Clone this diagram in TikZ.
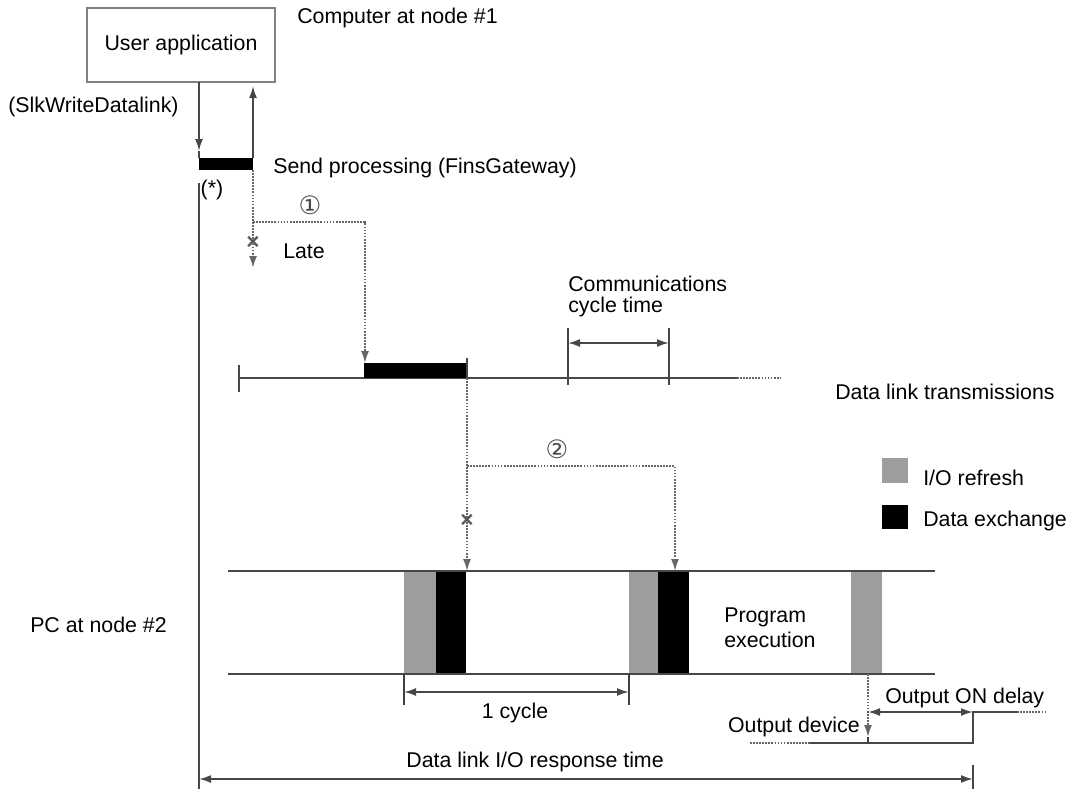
\documentclass[tikz,border=0pt]{standalone}
\usepackage{fontspec}
\setmainfont{Liberation Sans}
\newfontfamily\symfont{DejaVu Sans}
\usetikzlibrary{arrows.meta}
\begin{document}
\begin{tikzpicture}[x=0.75pt,y=-0.75pt,
  txt/.style={font=\fontsize{16}{19}\selectfont, inner sep=0pt},
  ln/.style={draw=black!72, line width=1.4pt},
  thin/.style={draw=black!75, line width=1pt},
  dot/.style={draw=black!60, line width=1.3pt, densely dotted},
  arr/.style={-{Latex[length=9pt,width=6pt]}},
  darr/.style={{Latex[length=9pt,width=6pt]}-{Latex[length=9pt,width=6pt]}},
  appbox/.style={draw=black!50, line width=1.7pt, fill=white, minimum width=141pt, minimum height=55.5pt, inner sep=0pt, font=\fontsize{16}{19}\selectfont},
  blk/.style={fill=black, draw=none, inner sep=0pt},
  gry/.style={fill=black!38, draw=none, inner sep=0pt},
  circ/.style={font=\symfont\fontsize{19}{22}\selectfont, text=black!70, inner sep=0pt},
  xmark/.style={font=\bfseries\fontsize{17}{19}\selectfont, text=black!65, inner sep=0pt}
]
\useasboundingbox (0,0) rectangle (1070,789);

% user application
\node[appbox] (app) at (181,45) {User application};
\node[txt, anchor=west] (comp) at (297,18) {Computer at node \#1};
\node[txt, anchor=west] (slk) at (8,107) {(SlkWriteDatalink)};

% send processing bar
\node[blk, minimum width=40.5pt, minimum height=9pt] (sbar) at (226,164) {};
\node[txt, anchor=west] (send) at (273,168) {Send processing (FinsGateway)};
\node[txt] (star) at (212,190) {(*)};

\coordinate (d1) at (199,82);
\coordinate (d1b) at (199,151);
\coordinate (d2) at (199,158);
\coordinate (u1) at (253,158);
\coordinate (u2) at (253,86);
\draw[ln,arr] (d1) -- (d1b);
\draw[ln] (d1b) -- (d2);
\draw[ln,arr] (u1) -- (u2);

% left long line
\coordinate (L1) at (199,183);
\coordinate (L2) at (199,789);
\draw[ln] (L1) -- (L2);

% path 1 (late)
\coordinate (p0) at (253,170);
\coordinate (p1) at (253,222);
\coordinate (p2) at (365,222);
\coordinate (p3) at (365,363);
\coordinate (pl) at (253,268);
\draw[dot,arr] (p0) -- (pl);
\draw[dot,arr] (p1) -- (p2) -- (p3);
\node[circ] (c1) at (310,205) {①};
\node[xmark] (x1) at (253,243) {×};
\node[txt, anchor=west] (late) at (283,251) {Late};

% data link line
\coordinate (dl0) at (239,378);
\coordinate (dl1) at (737,378);
\coordinate (dl2) at (780,378);
\draw[ln] (dl0) -- (dl1);
\draw[dot] (dl1) -- (dl2);
\draw[ln] (239,365) -- (239,392);
\node[blk, minimum width=77.25pt, minimum height=11.25pt] (dbar) at (415.5,370.5) {};
\coordinate (t1) at (467,358);
\coordinate (t2) at (467,378);
\draw[ln] (t1) -- (t2);
\coordinate (cA1) at (568,328);
\coordinate (cA2) at (568,385);
\coordinate (cB1) at (669,328);
\coordinate (cB2) at (669,385);
\draw[ln] (cA1) -- (cA2);
\draw[ln] (cB1) -- (cB2);
\coordinate (ca) at (568,343);
\coordinate (cb) at (669,343);
\draw[ln,darr] (ca) -- (cb);
\node[txt, font=\fontsize{16}{15.75}\selectfont, anchor=west, align=left] (comm) at (568,296.5) {Communications\\cycle time};
\node[txt, anchor=west] (dlt) at (835,392) {Data link transmissions};

% path 2
\coordinate (q1) at (467,466);
\coordinate (q2) at (675,466);
\coordinate (q3) at (675,571);
\coordinate (q4) at (467,571);
\draw[dot,arr] (t2) -- (q4);
\draw[dot,arr] (q1) -- (q2) -- (q3);
\node[circ] (c2) at (557,449) {②};
\node[xmark] (x2) at (467,521) {×};

% legend
\node[gry, minimum width=19.5pt, minimum height=18.75pt] (lg1) at (895,470.5) {};
\node[blk, minimum width=19.5pt, minimum height=18pt] (lg2) at (895,517) {};
\node[txt, anchor=west] (lt1) at (923,478) {I/O refresh};
\node[txt, anchor=west] (lt2) at (923,521) {Data exchange};

% PC timeline
\node[gry, minimum width=24pt, minimum height=77.25pt] (g1) at (420,622.5) {};
\node[blk, minimum width=22.5pt, minimum height=77.25pt] (b1) at (451,622.5) {};
\node[gry, minimum width=21.75pt, minimum height=77.25pt] (g2) at (643.5,622.5) {};
\node[blk, minimum width=23.25pt, minimum height=77.25pt] (b2) at (673.5,622.5) {};
\node[gry, minimum width=23.25pt, minimum height=77.25pt] (g3) at (866.5,622.5) {};
\coordinate (pcT0) at (228,571);
\coordinate (pcT1) at (935,571);
\coordinate (pcB0) at (228,674);
\coordinate (pcB1) at (935,674);
\draw[ln] (pcT0) -- (pcT1);
\draw[ln] (pcB0) -- (pcB1);
\node[txt, font=\fontsize{16}{18.75}\selectfont, anchor=west, align=left] (prog) at (724,627.5) {Program\\execution};
\node[txt, anchor=west] (pc) at (30,625) {PC at node \#2};

% 1 cycle
\coordinate (k1a) at (404,674);
\coordinate (k1b) at (404,705);
\coordinate (k2a) at (629,674);
\coordinate (k2b) at (629,705);
\draw[thin] (k1a) -- (k1b);
\draw[thin] (k2a) -- (k2b);
\coordinate (ka) at (404,692);
\coordinate (kb) at (629,692);
\draw[ln,darr] (ka) -- (kb);
\node[txt] (cyc) at (515,713) {1 cycle};

% output
\coordinate (o0) at (868,674);
\coordinate (o1) at (868,737);
\coordinate (o2) at (868,743);
\draw[dot,arr] (o0) -- (o1);
\draw[thin] (o1) -- (o2);
\coordinate (od0) at (750,743);
\coordinate (od1) at (810,743);
\coordinate (od2) at (973,743);
\coordinate (od3) at (973,712);
\coordinate (od4) at (1017,712);
\coordinate (od5) at (1045,712);
\draw[dot] (od0) -- (od1);
\draw[ln] (od1) -- (od2) -- (od3) -- (od4);
\draw[dot] (od4) -- (od5);
\coordinate (oa) at (868,712);
\draw[ln,darr] (oa) -- (od3);
\node[txt, anchor=west] (ond) at (885,698) {Output ON delay};
\node[txt, anchor=east] (odev) at (860,727) {Output device};

% response time
\coordinate (r0) at (199,779);
\coordinate (r1) at (973,779);
\coordinate (rt1) at (973,765);
\coordinate (rt2) at (973,789);
\draw[ln] (rt1) -- (rt2);
\draw[ln,darr] (r0) -- (r1);
\node[txt] (resp) at (535,762) {Data link I/O response time};
\end{tikzpicture}
\end{document}
